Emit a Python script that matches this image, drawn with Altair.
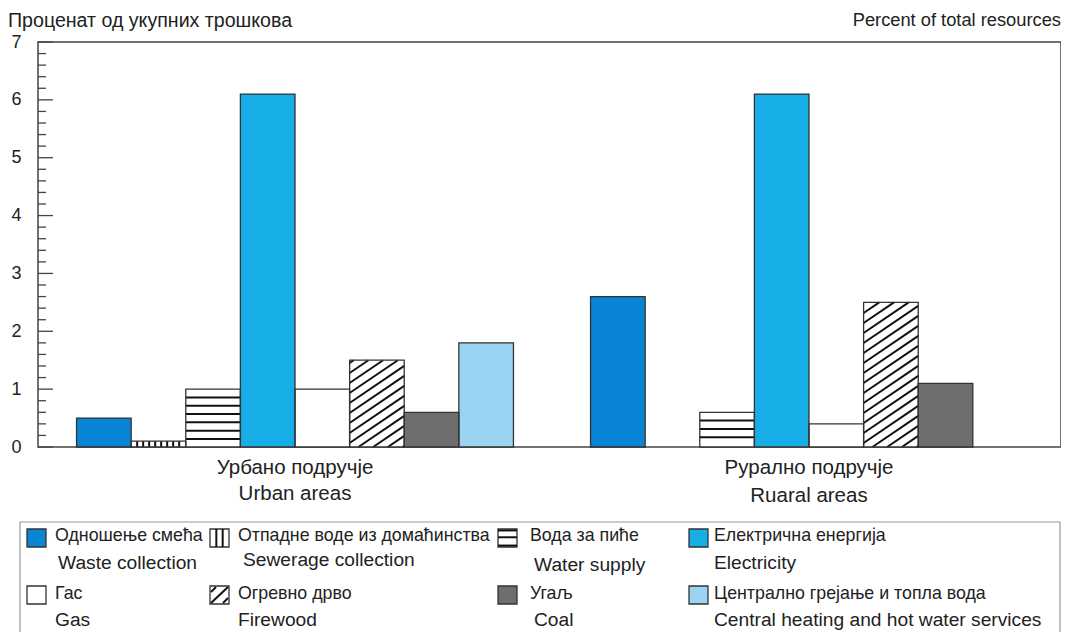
import math
import altair as alt
import pandas as pd

# ---------------- data ----------------
groups_sr = ["Урбано подручје", "Рурално подручје"]
groups_en = ["Urban areas", "Ruaral areas"]
cats_sr = ["Одношење смећа", "Отпадне воде из домаћинства", "Вода за пиће",
           "Електрична енергија", "Гас", "Огревно дрво", "Угаљ",
           "Централно грејање и топла вода"]
cats_en = ["Waste collection", "Sewerage collection", "Water supply",
           "Electricity", "Gas", "Firewood", "Coal",
           "Central heating and hot water services"]
urban = [0.5, 0.1, 1.0, 6.1, 1.0, 1.5, 0.6, 1.8]
rural = [2.6, 0.0, 0.6, 6.1, 0.4, 2.5, 1.1, 0.0]
y_tick_labels = [0, 1, 2, 3, 4, 5, 6, 7]
title_left = "Проценат од укупних трошкова"
title_right = "Percent of total resources"

# ---------------- styles / layout ----------------
fills = ["#0a85d6", "#ffffff", "#ffffff", "#17ade6", "#ffffff", "#ffffff",
         "#6e6e6e", "#9bd3f2"]
patterns = ["solid", "vlines", "hlines", "solid", "solid", "diag", "solid", "solid"]
FONT = "Liberation Sans"
TXT = "#222222"
W, H = 1023, 405
YMAX = 7
PX_X = 514.0            # px per group unit
XMAX = W / PX_X
PX_Y = H / YMAX
OUTER = 0.075
BARW = (1 - 2 * OUTER) / 8

# ---------------- bar table ----------------
rows = []
for g, vals in enumerate([urban, rural]):
    for j, v in enumerate(vals):
        x0 = g + OUTER + j * BARW
        rows.append(dict(group=groups_en[g], cat=cats_en[j], value=v,
                         x0=x0, x1=x0 + BARW, fill=fills[j], pattern=patterns[j]))
bars = pd.DataFrame(rows)
bars = bars[bars.value > 0].reset_index(drop=True)

# pattern strokes derived from each bar's extent
lines = []
bw_px = BARW * PX_X
for _, b in bars.iterrows():
    hb = b.value * PX_Y
    if b.pattern == "hlines":
        k = 1
        while hb - k * 8.3 > 2:
            yy = (hb - k * 8.3) / PX_Y
            lines.append(dict(x=b.x0, x2=b.x1, y=yy, y2=yy))
            k += 1
    elif b.pattern == "vlines":
        k = 1
        while k * 6.0 < bw_px - 2:
            xx = b.x0 + k * 6.0 / PX_X
            lines.append(dict(x=xx, x2=xx, y=0, y2=b.value))
            k += 1
    elif b.pattern == "diag":
        s, sp = 0.68, 10.0
        kmin = -math.ceil(s * bw_px / sp) - 1
        kmax = math.ceil(hb / sp) + 1
        for k in range(kmin, kmax):
            c = k * sp + 4
            xs_ = max(0.0, -c / s)
            xe_ = min(bw_px, (hb - c) / s)
            if xe_ - xs_ > 1.5:
                lines.append(dict(x=b.x0 + xs_ / PX_X, x2=b.x0 + xe_ / PX_X,
                                  y=(c + s * xs_) / PX_Y, y2=(c + s * xe_) / PX_Y))
lines = pd.DataFrame(lines)

xs = alt.Scale(domain=[0, XMAX], nice=False, zero=False)
ys = alt.Scale(domain=[0, YMAX], nice=False)

base_bars = alt.Chart(bars)
bar_fill = base_bars.mark_bar(strokeWidth=0).encode(
    x=alt.X("x0:Q", scale=xs, axis=None),
    x2="x1:Q",
    y=alt.Y("value:Q", scale=ys,
            axis=alt.Axis(values=y_tick_labels, format="d", ticks=False, domain=False,
                          grid=False, title=None, labelFontSize=18, labelFont=FONT,
                          labelColor=TXT, labelPadding=17)),
    y2=alt.datum(0),
    fill=alt.Fill("fill:N", scale=None),
)
hatch = alt.Chart(lines).mark_rule(color="#111111", strokeWidth=2).encode(
    x=alt.X("x:Q", scale=xs), x2="x2:Q",
    y=alt.Y("y:Q", scale=ys), y2="y2:Q")
bar_outline = base_bars.mark_bar(fillOpacity=0, stroke="#333333", strokeWidth=1.3).encode(
    x=alt.X("x0:Q", scale=xs), x2="x1:Q",
    y=alt.Y("value:Q", scale=ys), y2=alt.datum(0))

# inward y ticks
major = pd.DataFrame({"t": y_tick_labels})
minor = pd.DataFrame({"t": [i / 5 for i in range(0, YMAX * 5 + 1) if i % 5]})
tick_major = alt.Chart(major).mark_rule(color="#444444", strokeWidth=1.3).encode(
    y=alt.Y("t:Q", scale=ys), x=alt.value(0), x2=alt.value(15))
tick_minor = alt.Chart(minor).mark_rule(color="#444444", strokeWidth=1.3).encode(
    y=alt.Y("t:Q", scale=ys), x=alt.value(0), x2=alt.value(8))

# group labels
glab = pd.DataFrame({
    "gx": [0.5, 1.5, 0.5, 1.5],
    "py": [426, 426, 452, 454],
    "txt": groups_sr + groups_en,
})
group_text = alt.Chart(glab).mark_text(fontSize=20.5, font=FONT, color=TXT,
                                       align="center", baseline="middle").encode(
    x=alt.X("gx:Q", scale=xs), y=alt.Y("py:Q", scale=None), text="txt:N")

# titles
titles = pd.DataFrame({"px": [-30, W], "py": [-21, -21],
                       "txt": [title_left, title_right]})
t_left = alt.Chart(titles.iloc[[0]]).mark_text(fontSize=19.6, font=FONT, color=TXT,
                                               align="left", baseline="middle").encode(
    x=alt.X("px:Q", scale=None), y=alt.Y("py:Q", scale=None), text="txt:N")
t_right = alt.Chart(titles.iloc[[1]]).mark_text(fontSize=18.3, font=FONT, color=TXT,
                                                align="right", baseline="middle").encode(
    x=alt.X("px:Q", scale=None), y=alt.Y("py:Q", scale=None), text="txt:N")

# ---------------- legend (manual, to show patterns) ----------------
sym_x = [-11, 172, 460, 651]
sr_x = [17, 200, 492, 676]
en_x = [[20, 205, 496, 676], [17, 200, 496, 676]]
sym_y = [487, 544]
sr_y = [494, 552]
en_y = [[521, 518, 523, 521], [578, 578, 578, 578]]
SW, SH = 19, 18

leg_sym, leg_sr, leg_en, leg_lines = [], [], [], []
for j in range(8):
    r, c = divmod(j, 4)
    sx, sy = sym_x[c], sym_y[r]
    leg_sym.append(dict(lx=sx, lx2=sx + SW, ly=sy, ly2=sy + SH, fill=fills[j]))
    leg_sr.append(dict(lx=sr_x[c], ly=sr_y[r], txt=cats_sr[j]))
    leg_en.append(dict(lx=en_x[r][c], ly=en_y[r][c], txt=cats_en[j]))
    if patterns[j] == "vlines":
        for f in (1 / 3, 2 / 3):
            leg_lines.append(dict(lx=sx + f * SW, lx2=sx + f * SW, ly=sy, ly2=sy + SH))
    elif patterns[j] == "hlines":
        for f in (0.08, 1 / 2 - 0.04, 0.92):
            leg_lines.append(dict(lx=sx, lx2=sx + SW, ly=sy + f * SH, ly2=sy + f * SH))
    elif patterns[j] == "diag":
        leg_lines.append(dict(lx=sx + 1, lx2=sx + SW - 1, ly=sy + SH - 1, ly2=sy + 1))
        leg_lines.append(dict(lx=sx + 1, lx2=sx + 6, ly=sy + 6, ly2=sy + 1))
        leg_lines.append(dict(lx=sx + SW - 6, lx2=sx + SW - 1, ly=sy + SH - 1, ly2=sy + SH - 6))

leg_box = alt.Chart(pd.DataFrame([dict(lx=-18, lx2=1022, ly=480, ly2=640)])).mark_rect(
    fillOpacity=0, stroke="#9a9a9a", strokeWidth=1.2).encode(
    x=alt.X("lx:Q", scale=None), x2="lx2:Q", y=alt.Y("ly:Q", scale=None), y2="ly2:Q")
leg_rect = alt.Chart(pd.DataFrame(leg_sym)).mark_rect(stroke="#333333", strokeWidth=1.3).encode(
    x=alt.X("lx:Q", scale=None), x2="lx2:Q", y=alt.Y("ly:Q", scale=None), y2="ly2:Q",
    fill=alt.Fill("fill:N", scale=None))
leg_pat = alt.Chart(pd.DataFrame(leg_lines)).mark_rule(color="#111111", strokeWidth=2).encode(
    x=alt.X("lx:Q", scale=None), x2="lx2:Q", y=alt.Y("ly:Q", scale=None), y2="ly2:Q")
leg_text_sr = alt.Chart(pd.DataFrame(leg_sr)).mark_text(
    fontSize=17.8, font=FONT, color=TXT, align="left", baseline="middle").encode(
    x=alt.X("lx:Q", scale=None), y=alt.Y("ly:Q", scale=None), text="txt:N")
leg_text_en = alt.Chart(pd.DataFrame(leg_en)).mark_text(
    fontSize=19.2, font=FONT, color=TXT, align="left", baseline="middle").encode(
    x=alt.X("lx:Q", scale=None), y=alt.Y("ly:Q", scale=None), text="txt:N")

chart = alt.layer(
    bar_fill, hatch, bar_outline, tick_minor, tick_major,
    group_text, t_left, t_right,
    leg_box, leg_rect, leg_pat, leg_text_sr, leg_text_en,
).properties(
    width=W, height=H,
    padding={"left": 30, "top": 34, "right": 0, "bottom": 185},
    autosize=alt.AutoSizeParams(type="none"),
    background="white",
).configure_view(stroke="#444444", strokeWidth=1.5)

chart.save("out.html", embed_options={"renderer": "svg", "actions": False})
